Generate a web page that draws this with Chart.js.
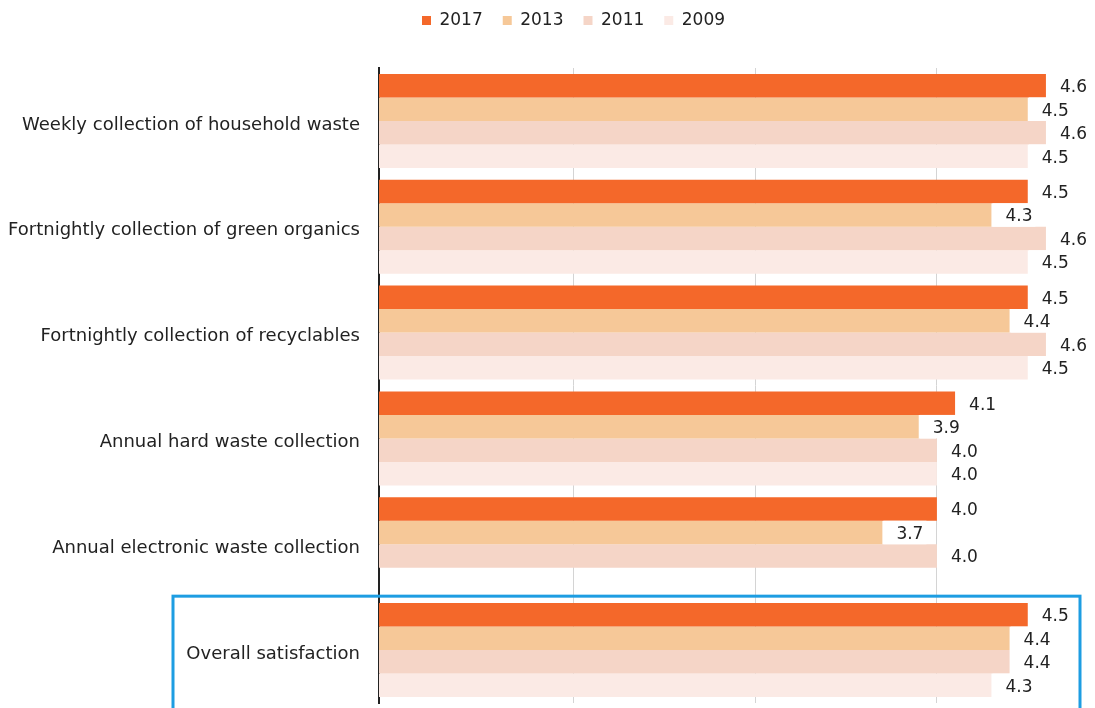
<!DOCTYPE html>
<html>
<head>
<meta charset="utf-8">
<script src="https://cdn.jsdelivr.net/npm/chart.js@4/dist/chart.umd.min.js"></script>
<style>
    html, body { margin: 0; padding: 0; background: #fff; overflow: hidden; }
    #wrap { width: 1095px; height: 708px; }
</style>
</head>
<body>
<div id="wrap"><canvas id="satChart"></canvas></div>
<script>
const categories = [
    "Weekly collection of household waste",
    "Fortnightly collection of green organics",
    "Fortnightly collection of recyclables",
    "Annual hard waste collection",
    "Annual electronic waste collection",
    "Overall satisfaction",
];
const years = ["2017", "2013", "2011", "2009"];
const scores2017 = [4.6, 4.5, 4.5, 4.1, 4.0, 4.5];
const scores2013 = [4.5, 4.3, 4.4, 3.9, 3.7, 4.4];
const scores2011 = [4.6, 4.6, 4.6, 4.0, 4.0, 4.4];
const scores2009 = [4.5, 4.5, 4.5, 4.0, null, 4.3];
const gridTicks = [2, 3, 4];

const colors = ["#f4682a", "#f6c898", "#f5d5c7", "#fbeae5"];
const FONT = "'DejaVu Sans', Verdana, sans-serif";

// nudge the legend a little right of centre and up to the top edge
const legendShift = {
    id: "legendShift",
    afterLayout(chart) {
        const lg = chart.legend;
        lg.left += 26;
        lg.right += 26;
        lg.top -= 8;
        lg.bottom -= 8;
    },
};

// value labels sit just past the end of each bar on a white patch
const valueLabels = {
    id: "valueLabels",
    afterDatasetsDraw(chart) {
        const ctx = chart.ctx;
        ctx.save();
        ctx.font = "17px " + FONT;
        ctx.textBaseline = "middle";
        chart.data.datasets.forEach((ds, di) => {
            const meta = chart.getDatasetMeta(di);
            meta.data.forEach((bar, i) => {
                const v = ds.data[i];
                if (v === null || v === undefined) return;
                const text = v.toFixed(1);
                const w = ctx.measureText(text).width;
                const h = bar.height;
                ctx.fillStyle = "#fff";
                ctx.fillRect(bar.x + 1, bar.y - h / 2, w + 16, h);
                ctx.fillStyle = "#222";
                ctx.fillText(text, bar.x + 14, bar.y + 2);
            });
        });
        ctx.restore();
    },
};

// blue frame around the last group
const highlightBox = {
    id: "highlightBox",
    afterDraw(chart) {
        const y = chart.scales.y;
        const step = y.getPixelForValue(1) - y.getPixelForValue(0);
        const top = y.getPixelForValue(5) - step / 2 - 1;
        const ctx = chart.ctx;
        ctx.save();
        ctx.strokeStyle = "#1d9de2";
        ctx.lineWidth = 3;
        ctx.strokeRect(173, top, chart.chartArea.right - 15 - 173, chart.height - top + 10);
        ctx.restore();
    },
};

new Chart(document.getElementById("satChart"), {
    type: "bar",
    data: {
        labels: categories,
        datasets: [scores2017, scores2013, scores2011, scores2009].map((d, i) => ({
            label: years[i],
            data: d,
            backgroundColor: colors[i],
            borderWidth: 0,
            categoryPercentage: 0.888,
            barPercentage: 1.0,
        })),
    },
    options: {
        indexAxis: "y",
        responsive: true,
        maintainAspectRatio: false,
        animation: false,
        layout: { padding: { top: 0, left: 0, right: 0, bottom: 5 } },
        plugins: {
            tooltip: { enabled: false },
            legend: {
                position: "top",
                labels: {
                    boxWidth: 9,
                    boxHeight: 9,
                    padding: 20,
                    color: "#222",
                    font: { family: FONT, size: 17 },
                },
            },
        },
        scales: {
            x: {
                position: "top",
                min: 0.93,
                max: 4.87,
                ticks: { display: false },
                border: { display: false },
                grid: { color: "#d4d4d4", lineWidth: 1, drawTicks: false },
                afterBuildTicks(axis) {
                    axis.ticks = gridTicks.map((v) => ({ value: v }));
                },
                afterFit(axis) {
                    axis.height = 21;
                },
            },
            y: {
                grid: { display: false, drawTicks: false },
                border: { display: true, color: "#222", width: 2 },
                ticks: {
                    padding: 19,
                    labelOffset: 4,
                    color: "#222",
                    font: { family: FONT, size: 18 },
                },
                afterFit(axis) {
                    axis.width = 379;
                    axis.paddingTop = 0;
                    axis.paddingBottom = 0;
                },
            },
        },
    },
    plugins: [legendShift, valueLabels, highlightBox],
});
</script>
</body>
</html>
